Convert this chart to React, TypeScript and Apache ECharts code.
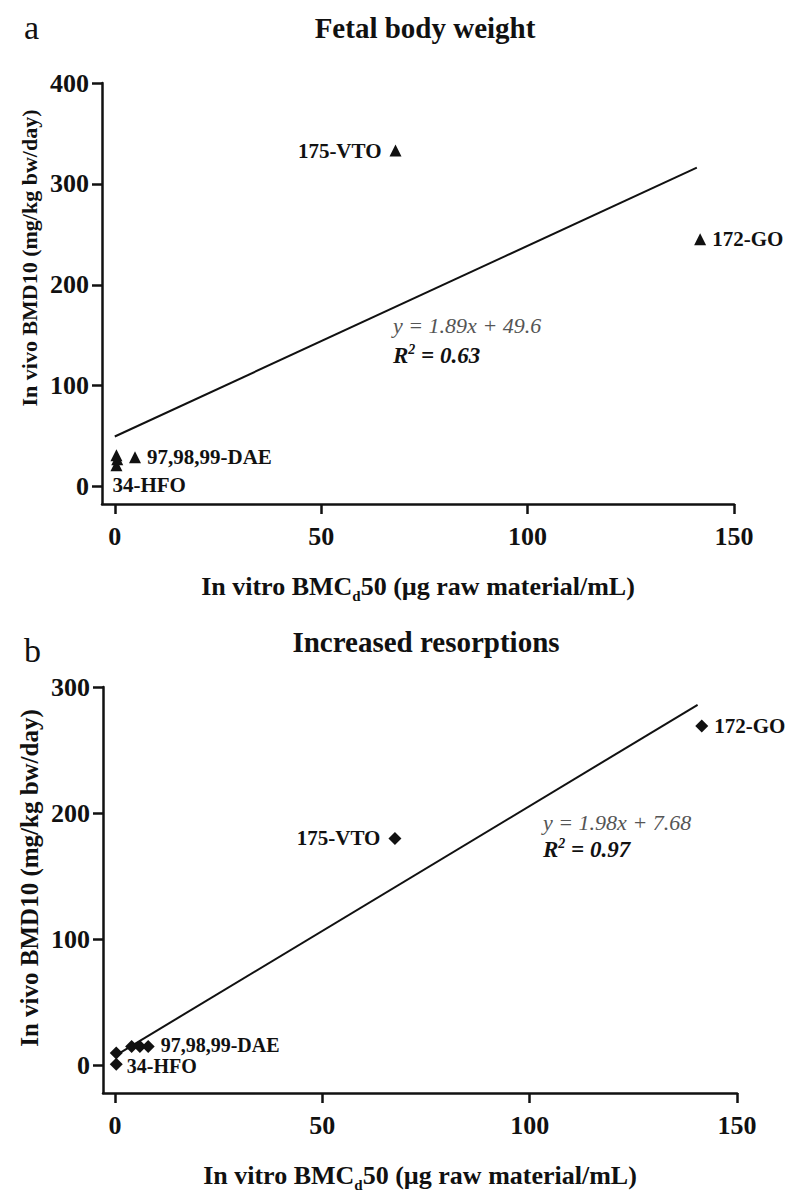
import React, { useEffect, useRef } from "react";
import * as echarts from "echarts";

// ---------- data ----------
const xTicks = [0, 50, 100, 150];
const yTicksA = [0, 100, 200, 300, 400];
const yTicksB = [0, 100, 200, 300];

// Panel a: Fetal body weight
const aX = [0.4, 0.4, 0.6, 4.9, 68, 141.8];
const aY = [21, 31, 27, 29, 333, 245];
const aNames = ["34-HFO", "", "", "97,98,99-DAE", "175-VTO", "172-GO"];
const aFit = { slope: 1.89, intercept: 49.6, r2: "0.63", xFrom: 0, xTo: 141 };

// Panel b: Increased resorptions
const bX = [0.3, 0.3, 4, 6, 8, 67.5, 141.5];
const bY = [1, 10, 15, 15, 15, 180, 269];
const bNames = ["34-HFO", "", "", "", "97,98,99-DAE", "175-VTO", "172-GO"];
const bFit = { slope: 1.98, intercept: 7.68, r2: "0.97", xFrom: 0, xTo: 140.5 };

const titles = ["Fetal body weight", "Increased resorptions"];
const panelLetters = ["a", "b"];
const xName = "{n|In vitro BMC}{d|d}{n|50 (µg raw material/mL)}";
const yName = "In vivo BMD10 (mg/kg bw/day)";

// ---------- styling / layout ----------
const FONT = "'Liberation Serif', 'Times New Roman', serif";
const INK = "#111";

const labelLayout: Record<string, any> = {
  a: {
    "34-HFO": { position: [2, 26], align: "left", verticalAlign: "middle", fontSize: 21 },
    "97,98,99-DAE": { position: "right", distance: 6, fontSize: 21 },
    "175-VTO": { position: "left", distance: 8, fontSize: 21 },
    "172-GO": { position: "right", distance: 6, fontSize: 21 },
  },
  b: {
    "34-HFO": { position: "right", distance: 4, offset: [0, 2], fontSize: 20 },
    "97,98,99-DAE": { position: "right", distance: 6, offset: [0, -2], fontSize: 20 },
    "175-VTO": { position: "left", distance: 8, fontSize: 21 },
    "172-GO": { position: "right", distance: 6, fontSize: 21 },
  },
};

function scatterData(xs: number[], ys: number[], names: string[], key: string) {
  return xs.map((x, i) => {
    const nm = names[i];
    const item: any = { value: [x, ys[i]], name: nm };
    if (nm) {
      item.label = {
        show: true,
        formatter: nm,
        fontFamily: FONT,
        fontWeight: "bold",
        color: INK,
        opacity: 1,
        ...labelLayout[key][nm],
      };
    }
    return item;
  });
}

function fitLine(f: { slope: number; intercept: number; xFrom: number; xTo: number }) {
  return [
    [f.xFrom, f.slope * f.xFrom + f.intercept],
    [f.xTo, f.slope * f.xTo + f.intercept],
  ];
}

function fmtEq(f: { slope: number; intercept: number }) {
  return `y = ${f.slope.toFixed(2)}x + ${f.intercept}`;
}

const axisLineStyle = { color: INK, width: 2.5 };

function makeX(gridIndex: number, min: number) {
  return {
    type: "value",
    gridIndex,
    min,
    max: 150,
    axisLine: { show: true, onZero: false, lineStyle: axisLineStyle },
    axisTick: { show: true, customValues: xTicks, length: 10, lineStyle: axisLineStyle },
    axisLabel: {
      customValues: xTicks,
      fontFamily: FONT,
      fontWeight: "bold",
      fontSize: 26,
      color: INK,
      margin: 19,
    },
    splitLine: { show: false },
    name: xName,
    nameLocation: "middle",
    nameGap: 66,
    nameTextStyle: {
      rich: {
        n: { fontFamily: FONT, fontWeight: "bold", fontSize: 26, color: INK, verticalAlign: "middle", lineHeight: 28 },
        d: { fontFamily: FONT, fontWeight: "bold", fontSize: 15, color: INK, verticalAlign: "bottom", padding: [18, 0, 0, 0] },
      },
    },
  };
}

function makeY(gridIndex: number, min: number, max: number, ticks: number[]) {
  return {
    type: "value",
    gridIndex,
    min,
    max,
    axisLine: { show: true, onZero: false, lineStyle: axisLineStyle },
    axisTick: { show: true, customValues: ticks, length: 10, lineStyle: axisLineStyle },
    axisLabel: {
      customValues: ticks,
      fontFamily: FONT,
      fontWeight: "bold",
      fontSize: 26,
      color: INK,
      margin: 13,
    },
    splitLine: { show: false },
  };
}

function eqGraphics(f: any, left: number, cy1: number, cy2: number) {
  return [
    {
      type: "text",
      x: left,
      y: cy1,
      style: {
        text: fmtEq(f),
        font: `italic 22px ${FONT}`,
        fill: "#555",
        verticalAlign: "middle",
      },
    },
    {
      type: "text",
      x: left,
      y: cy2,
      style: {
        text: `{r|R}{s|2}{r| = ${f.r2}}`,
        verticalAlign: "middle",
        rich: {
          r: { fontFamily: FONT, fontStyle: "italic", fontWeight: "bold", fontSize: 23, fill: INK, verticalAlign: "middle", lineHeight: 26 },
          s: { fontFamily: FONT, fontStyle: "italic", fontWeight: "bold", fontSize: 14, fill: INK, verticalAlign: "top" },
        },
      },
    },
  ];
}

function yTitle(cy: number, size: number) {
  return {
    type: "text",
    x: 29,
    y: cy,
    rotation: Math.PI / 2,
    style: { text: yName, font: `bold ${size}px ${FONT}`, fill: INK, align: "center", verticalAlign: "middle" },
  };
}

export default function App() {
  const ref = useRef<HTMLDivElement>(null);
  useEffect(() => {
    if (!ref.current) return;
    const chart = echarts.init(ref.current, undefined, { renderer: "svg" });
    const option: any = {
      animation: false,
      backgroundColor: "#fff",
      grid: [
        { left: 102, top: 83, width: 632, height: 421 },
        { left: 103, top: 687, width: 634, height: 427 },
      ],
      xAxis: [makeX(0, -3.1), makeX(1, -2.9)],
      yAxis: [makeY(0, -17.3, 400, yTicksA), makeY(1, -21.8, 300, yTicksB)],
      series: [
        {
          type: "line",
          xAxisIndex: 0,
          yAxisIndex: 0,
          data: fitLine(aFit),
          symbol: "none",
          lineStyle: { color: INK, width: 2 },
          z: 1,
        },
        {
          type: "scatter",
          xAxisIndex: 0,
          yAxisIndex: 0,
          symbol: "triangle",
          symbolSize: 12,
          itemStyle: { color: INK, opacity: 1 },
          data: scatterData(aX, aY, aNames, "a"),
          z: 3,
        },
        {
          type: "line",
          xAxisIndex: 1,
          yAxisIndex: 1,
          data: fitLine(bFit),
          symbol: "none",
          lineStyle: { color: INK, width: 2 },
          z: 1,
        },
        {
          type: "scatter",
          xAxisIndex: 1,
          yAxisIndex: 1,
          symbol: "diamond",
          symbolSize: 13,
          itemStyle: { color: INK, opacity: 1 },
          data: scatterData(bX, bY, bNames, "b"),
          z: 3,
        },
      ],
      graphic: [
        {
          type: "text",
          x: 425,
          y: 28,
          style: { text: titles[0], font: `bold 29px ${FONT}`, fill: INK, align: "center", verticalAlign: "middle" },
        },
        {
          type: "text",
          x: 426,
          y: 642,
          style: { text: titles[1], font: `bold 29px ${FONT}`, fill: INK, align: "center", verticalAlign: "middle" },
        },
        {
          type: "text",
          x: 24,
          y: 27,
          style: { text: panelLetters[0], font: `34px ${FONT}`, fill: INK, align: "left", verticalAlign: "middle" },
        },
        {
          type: "text",
          x: 24,
          y: 650,
          style: { text: panelLetters[1], font: `34px ${FONT}`, fill: INK, align: "left", verticalAlign: "middle" },
        },
        yTitle(258, 22),
        yTitle(878, 25),
        ...eqGraphics(aFit, 393, 325, 355),
        ...eqGraphics(bFit, 543, 822, 849),
      ],
    };
    chart.setOption(option);
    return () => chart.dispose();
  }, []);
  return (
    <div
      ref={ref}
      style={{ position: "absolute", left: 0, top: 0, width: 792, height: 1193, background: "#fff" }}
    />
  );
}
